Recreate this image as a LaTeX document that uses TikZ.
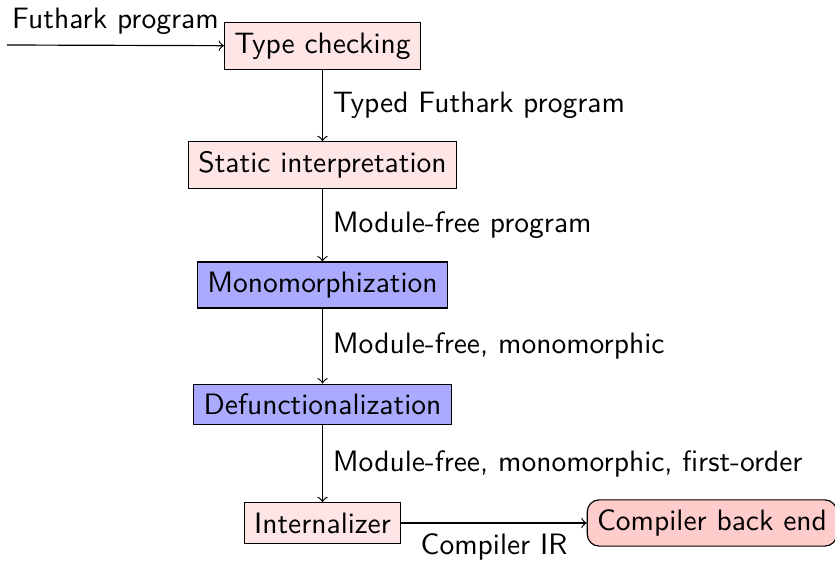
\documentclass[tikz,border=0pt]{standalone}
\usetikzlibrary{arrows}
\renewcommand{\familydefault}{\sfdefault}
\definecolor{pinkfill}{RGB}{255,230,230}
\definecolor{bluefill}{RGB}{170,170,255}
\definecolor{backfill}{RGB}{255,204,204}
\begin{document}
\begin{tikzpicture}[x=0.339pt,y=-0.339pt,
  font=\sffamily,
  stage/.style={draw, fill=pinkfill},
  newstage/.style={draw, fill=bluefill},
  backend/.style={draw, fill=backfill, rounded corners=4pt},
  flow/.style={->}]
\useasboundingbox (0,0) rectangle (835,561);
\coordinate (in) at (7,45);
\node[stage] (tc) at (322.5,46) {Type checking};
\node[stage] (si) at (322.5,165) {Static interpretation};
\node[newstage] (mono) at (322.5,285) {Monomorphization};
\node[newstage] (defun) at (322.5,404.5) {Defunctionalization};
\node[stage] (int) at (322.5,523) {Internalizer};
\node[backend] (cbe) at (712,523) {Compiler back end};
\draw[flow] (in) -- node[above] {Futhark program} (tc);
\draw[flow] (tc) -- node[right] {Typed Futhark program} (si);
\draw[flow] (si) -- node[right] {Module-free program} (mono);
\draw[flow] (mono) -- node[right] {Module-free, monomorphic} (defun);
\draw[flow] (defun) -- node[right] {Module-free, monomorphic, first-order} (int);
\draw[flow] (int) -- node[below] {Compiler IR} (cbe);
\end{tikzpicture}
\end{document}
